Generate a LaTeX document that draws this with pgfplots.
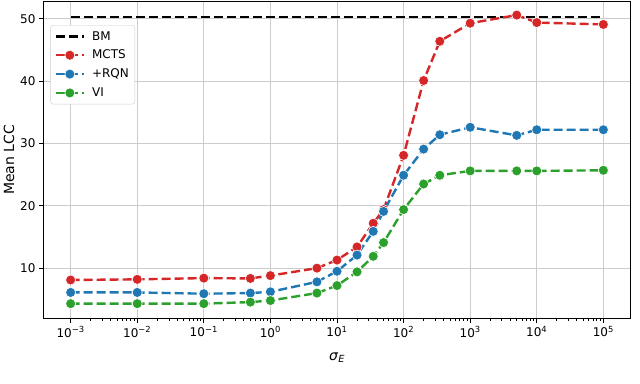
\documentclass[border=0pt]{standalone}
\usepackage{fontspec}
\setmainfont{DejaVu Sans}
\usepackage{pgfplots}
\pgfplotsset{compat=1.18}
\definecolor{tabred}{HTML}{D62728}
\definecolor{tabblue}{HTML}{1F77B4}
\definecolor{tabgreen}{HTML}{2CA02C}

\begin{document}
\begin{tikzpicture}
\begin{axis}[
    scale only axis,
    width=586bp, height=316bp,
    xmode=log,
    xmin=10^-3.4, xmax=10^5.4,
    ymin=2, ymax=52.7,
    xtick={1e-3,1e-2,1e-1,1,10,100,1000,10000,100000},
    xticklabels={10\textsuperscript{−3},10\textsuperscript{−2},10\textsuperscript{−1},10\textsuperscript{0},10\textsuperscript{1},10\textsuperscript{2},10\textsuperscript{3},10\textsuperscript{4},10\textsuperscript{5}},
    ytick={10,20,30,40,50},
    /pgf/number format/assume math mode=true,
    tick label style={font=\fontsize{12bp}{14bp}\selectfont},
    label style={font=\fontsize{14bp}{16bp}\selectfont},
    xlabel={\textit{σ}\textsubscript{\textit{E}}},
    ylabel={Mean LCC},
    xlabel style={yshift=-9bp},
    ylabel style={yshift=-1bp},
    grid=major,
    major grid style={draw=black!20, line width=1bp},
    tick align=outside,
    xtick pos=left, ytick pos=left,
    major tick length=5bp,
    minor tick length=3bp,
    tick style={black, line width=1bp},
    axis line style={line width=1bp},
    legend style={at={(0.011,0.927)}, anchor=north west,
        draw=black!20, rounded corners=2.5bp,
        font=\fontsize{12bp}{14bp}\selectfont,
        row sep=4.5bp, column sep=5bp, inner xsep=4bp, inner ysep=4bp,
        nodes={inner sep=2bp}},
    legend cell align=left,
    legend image code/.code={
        \draw[mark repeat=2, mark phase=2, #1]
            plot coordinates {(0bp,0bp) (14bp,0bp) (28bp,0bp)};},
    every axis plot/.append style={line width=2.4bp, dash pattern=on 9bp off 4bp},
]
\addplot[black, no marks] coordinates {(1e-3,50.25) (1e5,50.25)};
\addlegendentry{BM}

\addplot[tabred, mark=*, mark size=5bp, mark options={solid, fill=tabred, draw=white, line width=0.6bp}] coordinates {
(1e-3,8.1) (1e-2,8.2) (1e-1,8.4) (0.5,8.35) (1,8.8) (5,10.0) (10,11.3) (20,13.4)
(35,17.2) (50,19.4) (100,28.1) (200,40.1) (350,46.4) (1000,49.3) (5000,50.6)
(10000,49.4) (100000,49.1)};
\addlegendentry{MCTS}

\addplot[tabblue, mark=*, mark size=5bp, mark options={solid, fill=tabblue, draw=white, line width=0.6bp}] coordinates {
(1e-3,6.1) (1e-2,6.1) (1e-1,5.9) (0.5,6.0) (1,6.2) (5,7.8) (10,9.5) (20,12.1)
(35,15.9) (50,19.1) (100,24.9) (200,29.1) (350,31.4) (1000,32.6) (5000,31.3)
(10000,32.2) (100000,32.2)};
\addlegendentry{+RQN}

\addplot[tabgreen, mark=*, mark size=5bp, mark options={solid, fill=tabgreen, draw=white, line width=0.6bp}] coordinates {
(1e-3,4.3) (1e-2,4.3) (1e-1,4.3) (0.5,4.55) (1,4.8) (5,6.0) (10,7.2) (20,9.4)
(35,11.9) (50,14.1) (100,19.4) (200,23.5) (350,24.9) (1000,25.6) (5000,25.6)
(10000,25.6) (100000,25.7)};
\addlegendentry{VI}
\end{axis}
\useasboundingbox (current axis.south west) ++(-44bp,-66bp) rectangle ++(640bp,384bp);
\end{tikzpicture}
\end{document}
